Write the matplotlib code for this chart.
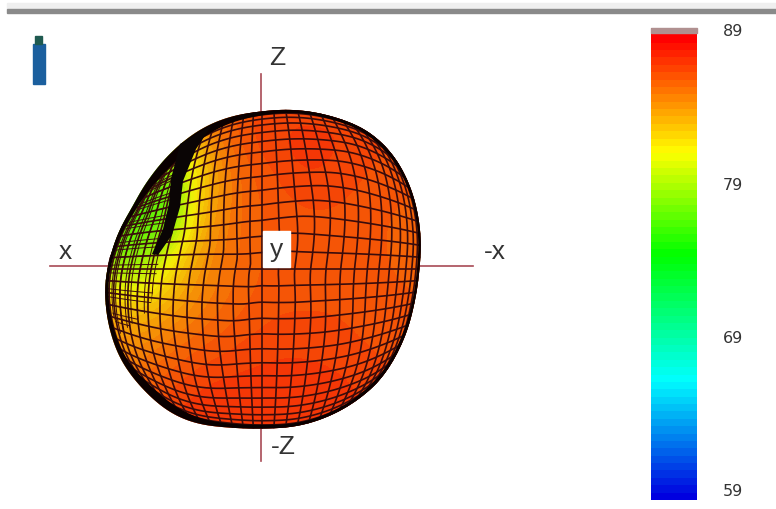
import matplotlib
matplotlib.use("Agg")
import matplotlib.pyplot as plt
import numpy as np
from matplotlib.colors import LinearSegmentedColormap, Normalize
from matplotlib.patches import Polygon, Rectangle

# outline of the pattern in pixels, clockwise from the right
outline_x = [419, 418, 411, 394, 368, 330, 293, 260, 230, 205, 173, 153, 133, 110,
             106, 109, 121, 144, 171, 195, 228, 261, 302, 345, 379, 402, 414]
outline_y = [270, 217, 190, 157, 132, 117, 111, 113, 118, 128, 152, 175, 208, 260,
             277, 327, 361, 391, 414, 424, 428, 429, 426, 409, 382, 344, 304]
outline_w = [2.5, 2.5, 2.5, 3, 3, 3, 3, 4, 6, 8, 10, 8, 4, 3,
             3, 4, 5, 8, 8, 6, 4, 4, 3, 3, 3, 3, 2.5]

# crease next to the green lobe
crease_x = [180, 171, 169, 163, 152, 158, 172, 180, 183, 196, 212]
crease_y = [145, 180, 205, 230, 255, 256, 236, 208, 182, 150, 126]
lobe_x = [165, 108, 107, 120, 150, 160, 175, 185]
lobe_y = [160, 260, 300, 335, 310, 256, 200, 150]

# gain in dB, sampled every 30 px over the pattern
gain_x = [100, 130, 160, 190, 220, 250, 280, 310, 340, 370, 400, 430]
gain_y = [105, 135, 165, 195, 225, 255, 285, 315, 345, 375, 405, 435]
gain = [
    [83.0, 83.0, 83.0, 84.0, 85.5, 86.3, 86.6, 86.6, 86.6, 86.6, 86.5, 86.5],
    [78.0, 78.0, 79.0, 82.5, 85.0, 86.2, 86.7, 87.0, 86.8, 86.5, 86.2, 86.0],
    [77.0, 77.0, 77.0, 81.5, 84.5, 85.8, 86.3, 86.8, 86.6, 86.3, 86.0, 85.8],
    [76.5, 76.5, 76.5, 81.5, 84.6, 85.6, 86.1, 86.3, 86.3, 86.1, 85.8, 85.7],
    [76.5, 76.5, 77.0, 82.5, 84.8, 85.6, 86.0, 86.1, 86.1, 86.0, 85.7, 85.6],
    [77.5, 77.5, 80.5, 83.5, 84.9, 85.6, 86.0, 86.1, 86.1, 86.0, 85.7, 85.6],
    [80.0, 80.0, 82.0, 84.0, 85.0, 85.7, 86.0, 86.1, 86.1, 86.0, 85.8, 85.7],
    [83.0, 82.5, 83.5, 84.6, 85.4, 85.9, 86.2, 86.2, 86.2, 86.1, 85.9, 85.8],
    [84.0, 84.0, 84.8, 85.4, 85.9, 86.3, 86.5, 86.5, 86.4, 86.2, 86.0, 86.0],
    [84.0, 85.0, 85.6, 86.2, 86.5, 86.7, 86.8, 86.8, 86.7, 86.5, 86.2, 86.2],
    [85.0, 85.5, 86.3, 86.8, 87.0, 87.0, 87.0, 87.0, 86.9, 86.7, 86.4, 86.4],
    [85.0, 86.0, 86.8, 87.0, 87.1, 87.1, 87.1, 87.1, 87.0, 86.8, 86.6, 86.6],
]

bar_ticks = [89, 79, 69, 59]

CX, CY = 262, 270
AXIS_COLOR = "#a84a55"
LINE_COLOR = "#3a0c0c"

cmap = LinearSegmentedColormap.from_list("pattern", [
    (0.0, "#0000e0"), (0.25, "#00ffff"), (0.52, "#00ff00"),
    (0.74, "#ffff00"), (0.985, "#ff0000"), (1.0, "#ff0000")], N=64)
norm = Normalize(58.5, 89.1)

# outline radius and rim width on a fine circle, smoothed round the loop
ring = np.radians(np.arange(-180, 180))
_dx = np.array(outline_x) - CX
_dy = CY - np.array(outline_y)
_ang = np.arctan2(_dy, _dx)
_order = np.argsort(_ang)


def smooth_ring(values):
    raw = np.interp(ring, _ang[_order], np.array(values, dtype=float)[_order], period=2 * np.pi)
    kernel = np.hanning(21)
    kernel = kernel / kernel.sum()
    return np.convolve(np.concatenate([raw[-30:], raw, raw[:30]]), kernel, mode="same")[30:-30]


ring_r = smooth_ring(np.hypot(_dx, _dy))
ring_w = smooth_ring(outline_w)


def outline_radius(alpha):
    return np.interp(alpha, ring, ring_r, period=2 * np.pi)


def to_pixels(u, v):
    # square grid on to a disk, then out to the outline
    a = np.sin(u) * np.sqrt(1 - np.sin(v) ** 2 / 2)
    b = np.sin(v) * np.sqrt(1 - np.sin(u) ** 2 / 2)
    # the left side is squeezed by the lobe
    a = np.where(a < 0, -(np.abs(a) ** 1.12), a)
    alpha = np.arctan2(b, a)
    rho = np.hypot(a, b)
    r = rho * outline_radius(alpha)
    return CX + r * np.cos(alpha), CY - r * np.sin(alpha)


def draw_mesh(ax, step, clip, lw):
    grid = np.radians(np.arange(-90, 90 + step, step))
    fine = np.radians(np.arange(-90, 91, 2))
    for g in grid:
        for u, v in ((np.full_like(fine, g), fine), (fine, np.full_like(fine, g))):
            x, y = to_pixels(u, v)
            line, = ax.plot(x, y, color=LINE_COLOR, linewidth=lw, zorder=3)
            line.set_clip_path(clip)


def plot() -> None:
    fig = plt.figure(figsize=(7.76, 5.10), dpi=100)
    ax = fig.add_axes([0, 0, 1, 1])

    # window rule at the top
    ax.add_patch(Rectangle((7, 4), 769, 6, color="#efefef", zorder=1))
    ax.add_patch(Rectangle((7, 10), 769, 4, color="#8a8a8a", zorder=1))

    # bottle icon
    ax.add_patch(Rectangle((33, 45), 12, 40, color="#1b5f9e", zorder=1))
    ax.add_patch(Rectangle((35, 37), 7, 8, color="#1f5a50", zorder=1))

    # axes of the pattern
    ax.plot([261, 261], [75, 462], color=AXIS_COLOR, linewidth=1.2, zorder=1)
    ax.plot([50, 473], [267, 267], color=AXIS_COLOR, linewidth=1.2, zorder=1)

    # surface, a little muted by the tan behind it
    shape = Polygon(np.column_stack([CX + ring_r * np.cos(ring), CY - ring_r * np.sin(ring)]),
                    closed=True, facecolor="#a86a3a", edgecolor="none", zorder=2)
    ax.add_patch(shape)
    im = ax.imshow(gain, extent=[gain_x[0], gain_x[-1], gain_y[-1], gain_y[0]], aspect="auto",
                   cmap=cmap, norm=norm, interpolation="bicubic", alpha=0.9, zorder=2.5)
    im.set_clip_path(shape)

    draw_mesh(ax, 6, shape, 1.2)

    lobe = Polygon(np.column_stack([lobe_x, lobe_y]), closed=True, facecolor="none",
                   edgecolor="none", transform=ax.transData)
    ax.add_patch(lobe)
    draw_mesh(ax, 4, lobe, 0.7)

    # dark rim, wider where the surface turns away
    inner = ring_r - ring_w
    rim_x = np.concatenate([CX + ring_r * np.cos(ring), [CX + ring_r[0] * np.cos(ring[0])],
                            [CX + inner[0] * np.cos(ring[0])], CX + inner[::-1] * np.cos(ring[::-1])])
    rim_y = np.concatenate([CY - ring_r * np.sin(ring), [CY - ring_r[0] * np.sin(ring[0])],
                            [CY - inner[0] * np.sin(ring[0])], CY - inner[::-1] * np.sin(ring[::-1])])
    ax.fill(rim_x, rim_y, color="#0a0000", linewidth=0, zorder=4)
    ax.fill(crease_x, crease_y, color="#0a0505", linewidth=0, zorder=4)

    # axis names
    ax.add_patch(Rectangle((263, 232), 27, 36, color="white", zorder=5))
    font = dict(family="Liberation Sans", fontsize=19, color="#333333", ha="center", va="center", zorder=6)
    ax.text(65, 252, "x", **font)
    ax.text(277, 250, "y", **font)
    ax.text(277, 58, "Z", **font)
    ax.text(495, 252, "-x", **font)
    ax.text(283, 447, "-Z", **font)

    # colour bar
    levels = np.linspace(89.1, 58.5, 64).reshape(-1, 1)
    ax.imshow(levels, extent=[651, 697, 501, 29], aspect="auto", cmap=cmap, norm=norm,
              interpolation="nearest", zorder=2)
    ax.add_patch(Rectangle((651, 29), 46, 5, color="#b09090", zorder=3))
    for tick in bar_ticks:
        ax.text(733, 32 + (89 - tick) * 15.33, str(tick), family="DejaVu Sans", fontsize=11.5,
                color="#333333", ha="center", va="center")

    ax.set_xlim(0, 776)
    ax.set_ylim(510, 0)
    ax.axis("off")
    fig.savefig("out.png", dpi=100)


if __name__ == "__main__":
    plot()
